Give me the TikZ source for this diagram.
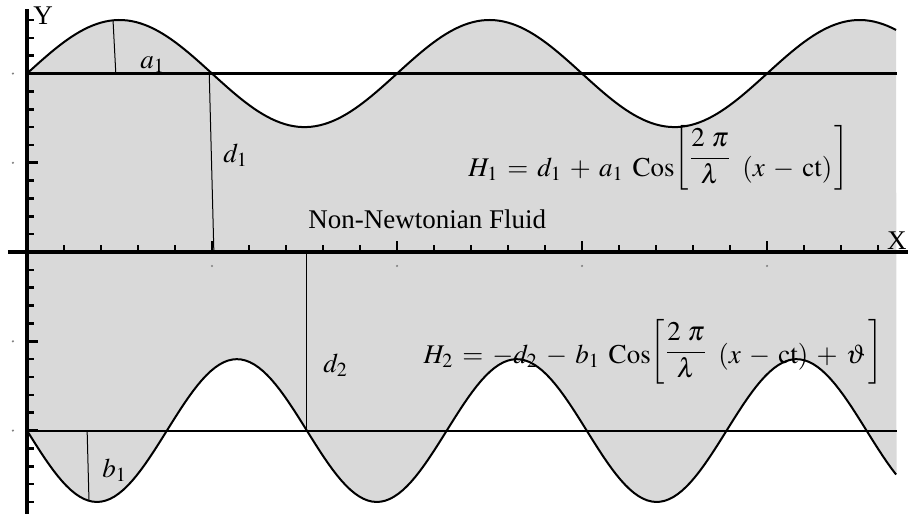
\documentclass[tikz,border=0pt]{standalone}
\usepackage{amsmath}
\usepackage{mathptmx}
\usepackage{fontspec}
\setmainfont{Liberation Serif}
\usepackage{tikz}

\begin{document}
\begin{tikzpicture}[x=92.5pt, y=89.25pt, font=\fontsize{13.5}{16}\selectfont,
    wall/.style={line width=1pt},
    tickline/.style={line width=1.3pt},
    lab/.style={anchor=base west, inner sep=0pt},
    eq/.style={lab, execute at begin node={\medmuskip=5.5mu\thickmuskip=6mu}}]
  \useasboundingbox (-0.146,-1.468) rectangle (4.762,1.412);
  % fluid region between the two walls
  \fill[black!15] plot[domain=0:4.7, samples=200] (\x, {1+0.3*sin(180*\x)})
    -- plot[domain=4.7:0, samples=200] (\x, {-1-0.4*sin(238*\x)}) -- cycle;

  % mean levels
  \draw[line width=1.5pt] (0,1) -- (4.7,1);
  \draw[line width=1pt] (0,-1) -- (4.7,-1);

  % labels
  \node[lab] (alab) at (0.611,1.031) {$a_1$};
  \node[lab] (d1lab) at (1.059,0.504) {$d_1$};
  \node[lab] (fluid) at (1.519,0.134) {Non-Newtonian Fluid};
  \node[lab] (d2lab) at (1.6,-0.672) {$d_2$};
  \node[lab] (blab) at (0.405,-1.261) {$b_1$};
  \node[eq] (heq1) at (2.384,0.426) {$H_1 = d_1 + a_1\;\mathrm{Cos}\raisebox{5.5pt}{$\left[\dfrac{2\ \pi}{\lambda}\right.$}\;(x - \mathrm{ct})\raisebox{5.5pt}{$\left.\vphantom{\dfrac{2\ \pi}{\lambda}}\right]$}$};
  \node[eq] (heq2) at (2.141,-0.622) {$H_2 = -d_2 - b_1\;\mathrm{Cos}\raisebox{2pt}{$\left[\dfrac{2\ \pi}{\lambda}\right.$}\;(x - \mathrm{ct}) + \vartheta\raisebox{2pt}{$\left.\vphantom{\dfrac{2\ \pi}{\lambda}}\right]$}$};

  % walls
  \draw[wall] plot[domain=0:4.7, samples=200] (\x, {1+0.3*sin(180*\x)});
  \draw[wall] plot[domain=0:4.7, samples=200] (\x, {-1-0.4*sin(238*\x)});

  % heights and amplitudes
  \draw[line width=0.5pt] (0.465,1.298) -- (0.48,1);
  \draw[line width=0.5pt] (0.985,1) -- (1.01,0);
  \draw[line width=0.5pt] (1.51,0) -- (1.51,-1);
  \draw[line width=0.5pt] (0.325,-1) -- (0.335,-1.394);

  % axes
  \draw[line width=1.6pt] (0,1.36) -- (0,-1.47);
  \draw[line width=1.6pt] (-0.103,0) -- (4.762,0);
  \node[anchor=base west, inner sep=0pt] (ylab) at (0.032,1.272) {Y};
  \node[anchor=base east, inner sep=0pt] (xlab) at (4.757,0.017) {X};

  % ticks
  \foreach \k in {1,...,23} \draw[tickline] (0.2*\k,0) -- ++(0,3.5pt);
  \foreach \k in {1,...,4} \draw[tickline] (\k,0) -- ++(0,5.5pt);
  \foreach \j in {-14,...,-1,1,2,...,13} \draw[tickline] (0,0.1*\j) -- ++(3.5pt,0);
  \foreach \v in {-1,-0.5,0.5,1} \draw[tickline] (0,\v) -- ++(5.5pt,0);

  % tick labels (tiny)
  \foreach \v in {-1,-0.5,0.5,1} \fill[gray] (-0.076,\v) circle (0.6pt);
  \foreach \k in {1,...,4} \fill[gray] (\k,-0.078) circle (0.6pt);
\end{tikzpicture}
\end{document}
